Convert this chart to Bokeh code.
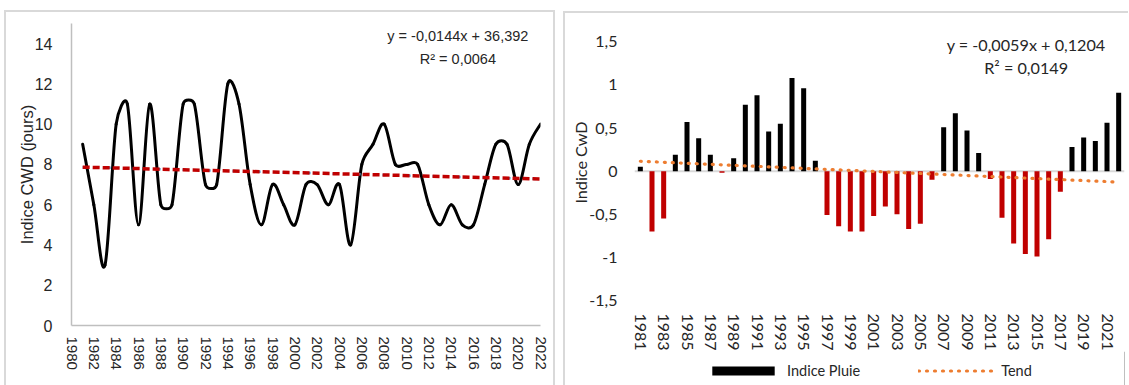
from bokeh.plotting import figure
from bokeh.models import (ColumnDataSource, FixedTicker, Range1d, Label, Legend,
                          LegendItem, Span, CustomJSTickFormatter)
from bokeh.core.properties import value
from bokeh.layouts import row, column
from bokeh.embed import file_html
from bokeh.resources import INLINE

# ---- data -------------------------------------------------------------
years = list(range(1981, 2023))

# consecutive wet days per year (left panel)
cwd_days = [9, 6, 3, 10, 11, 5, 11, 6, 6, 11,
            11, 7, 7, 12, 11, 7, 5, 7, 6, 5,
            7, 7, 6, 7, 4, 8, 9, 10, 8, 8,
            8, 6, 5, 6, 5, 5, 7, 9, 9, 7,
            9, 10]
cwd_slope, cwd_intercept = -0.0144, 36.392          # y = -0,0144x + 36,392
cwd_r2 = "0,0064"

# standardised CWD index (right panel)
cwd_index = [0.05, -0.70, -0.55, 0.19, 0.57, 0.38, 0.19, -0.02, 0.15, 0.77,
             0.88, 0.46, 0.55, 1.08, 0.96, 0.12, -0.51, -0.64, -0.70, -0.70,
             -0.52, -0.41, -0.50, -0.67, -0.61, -0.10, 0.51, 0.67, 0.47, 0.21,
             -0.09, -0.54, -0.84, -0.96, -0.99, -0.79, -0.24, 0.28, 0.39, 0.35,
             0.56, 0.91]
idx_slope, idx_intercept = -0.0059, 0.1204            # y = -0,0059x + 0,1204 (x = rank)
idx_r2 = "0,0149"

left_ticks = list(range(1980, 2023, 2))
right_ticks = list(range(1981, 2022, 2))

NARROW = "Liberation Sans"
HUMAN = "Lato"
TXT = "#262626"
FRAME = "2px solid #d9d9d9"
BAR_POS, BAR_NEG, TEND_COLOR = "#000000", "#C00000", "#ED7D31"


def smooth_segments(xs, ys, px_x, px_y):
    """Cubic Bezier pieces through every point (spreadsheet-style smoothing).
    Tangent handles are 1/6 of the neighbour chord, capped at half the
    segment length measured in pixels."""
    n = len(xs)
    out = {k: [] for k in ("x0", "y0", "x1", "y1", "cx0", "cy0", "cx1", "cy1")}

    def handle(a, b, seg_len):
        dx = (xs[b] - xs[a]) / 6
        dy = (ys[b] - ys[a]) / 6
        ln = ((dx * px_x) ** 2 + (dy * px_y) ** 2) ** 0.5
        cap = seg_len / 2
        if ln > cap and ln > 0:
            dx, dy = dx * cap / ln, dy * cap / ln
        return dx, dy

    for i in range(n - 1):
        a = max(i - 1, 0)
        b = min(i + 2, n - 1)
        seg = (((xs[i + 1] - xs[i]) * px_x) ** 2 + ((ys[i + 1] - ys[i]) * px_y) ** 2) ** 0.5
        dx0, dy0 = handle(a, i + 1, seg)
        dx1, dy1 = handle(i, b, seg)
        out["x0"].append(xs[i]); out["y0"].append(ys[i])
        out["x1"].append(xs[i + 1]); out["y1"].append(ys[i + 1])
        out["cx0"].append(xs[i] + dx0); out["cy0"].append(ys[i] + dy0)
        out["cx1"].append(xs[i + 1] - dx1); out["cy1"].append(ys[i + 1] - dy1)
    return out


def plain_axis(ax, font, color):
    ax.major_tick_line_color = None
    ax.minor_tick_line_color = None
    ax.major_tick_out = 0
    ax.major_tick_in = 0
    ax.minor_tick_out = 0
    ax.minor_tick_in = 0
    ax.major_label_text_font = font
    ax.major_label_text_color = color
    ax.axis_label_text_font = font
    ax.axis_label_text_font_style = "normal"
    ax.axis_label_text_color = color


# ---- left panel: smoothed CWD series with linear trend -----------------
p1 = figure(frame_width=465, frame_height=300,
            x_range=Range1d(1980, 2022), y_range=Range1d(0, 15),
            min_border_left=65, min_border_right=17, min_border_top=11,
            min_border_bottom=62, output_backend="svg", toolbar_location=None)
p1.margin = (10, 0, 0, 4)
p1.styles = {"border-top": FRAME, "border-left": FRAME, "border-right": FRAME}

curve = ColumnDataSource(smooth_segments(years, cwd_days, 465 / 42, 20))
p1.bezier(x0="x0", y0="y0", x1="x1", y1="y1", cx0="cx0", cy0="cy0",
          cx1="cx1", cy1="cy1", source=curve, line_color="black",
          line_width=3, line_cap="round", line_join="round")

trend_x = [years[0], years[-1]]
trend_y = [cwd_slope * x + cwd_intercept for x in trend_x]
p1.line(trend_x, trend_y, line_color="#5B9BD5", line_width=2.5, line_dash="3 22")
p1.line(trend_x, trend_y, line_color="#C00000", line_width=3.5, line_dash="7 3")

p1.add_layout(Label(x=2014.6, y=14.4, text="y = -0,0144x + 36,392",
                    text_align="center", text_baseline="middle",
                    text_font=NARROW, text_font_size="14.5px", text_color=TXT))
p1.add_layout(Label(x=2014.6, y=13.25, text="R² = " + cwd_r2,
                    text_align="center", text_baseline="middle",
                    text_font=NARROW, text_font_size="14.5px", text_color=TXT))

p1.xaxis.ticker = FixedTicker(ticks=left_ticks)
p1.yaxis.ticker = FixedTicker(ticks=list(range(0, 15, 2)))
p1.xaxis.major_label_orientation = "vertical"
p1.yaxis.axis_label = "Indice CWD (jours)"
for ax in (p1.xaxis[0], p1.yaxis[0]):
    plain_axis(ax, NARROW, TXT)
    ax.axis_line_color = "#bfbfbf"
    ax.axis_line_width = 1.5
p1.xaxis.major_label_text_font_size = "15px"
p1.yaxis.major_label_text_font_size = "16px"
p1.xaxis.major_label_standoff = 11
p1.yaxis.major_label_standoff = 19
p1.yaxis.axis_label_text_font_size = "16.5px"
p1.yaxis.axis_label_standoff = -4
p1.grid.visible = False
p1.outline_line_color = None

# ---- right panel: yearly index bars with linear trend -----------------
p2 = figure(frame_width=488, frame_height=274,
            x_range=Range1d(1980.5, 2022.5), y_range=Range1d(-1.5, 1.70),
            min_border_left=69, min_border_right=6, min_border_top=11,
            min_border_bottom=50, output_backend="svg", toolbar_location=None)
p2.margin = (11, 0, 0, 8)
p2.styles = {"border-top": FRAME, "border-left": FRAME}

p2.add_layout(Span(location=0, dimension="width", line_color="#d9d9d9",
                   line_width=2, level="underlay"))

bar_colors = [BAR_POS if v >= 0 else BAR_NEG for v in cwd_index]
bars_src = ColumnDataSource(dict(year=years, val=cwd_index, color=bar_colors))
p2.vbar(x="year", top="val", bottom=0, width=0.43, source=bars_src,
        fill_color="color", line_color=None)

ranks = list(range(1, len(years) + 1))
tend_style = dict(line_color=TEND_COLOR, line_width=3.2, line_dash="1 7", line_cap="round")
p2.line([years[0], years[-1]],
        [idx_slope * ranks[0] + idx_intercept, idx_slope * ranks[-1] + idx_intercept],
        **tend_style)

p2.add_layout(Label(x=2014.07, y=1.464, text="y = -0,0059x + 0,1204",
                    text_align="center", text_baseline="middle",
                    text_font=HUMAN, text_font_size="16.2px", text_color=TXT))
p2.add_layout(Label(x=2014.07, y=1.196, text="R² = " + idx_r2,
                    text_align="center", text_baseline="middle",
                    text_font=HUMAN, text_font_size="16.2px", text_color=TXT))

p2.xaxis.ticker = FixedTicker(ticks=right_ticks)
p2.yaxis.ticker = FixedTicker(ticks=[-1.5, -1, -0.5, 0, 0.5, 1, 1.5])
p2.yaxis.formatter = CustomJSTickFormatter(code="return tick.toString().replace('.', ',');")
p2.xaxis.major_label_orientation = "vertical"
p2.yaxis.axis_label = "Indice CwD"
for ax in (p2.xaxis[0], p2.yaxis[0]):
    plain_axis(ax, HUMAN, TXT)
    ax.axis_line_color = None
    ax.major_label_text_font_size = "16px"
p2.xaxis.major_label_standoff = 13
p2.yaxis.major_label_standoff = 17
p2.yaxis.axis_label_text_font_size = "16.2px"
p2.yaxis.axis_label_standoff = -4
p2.grid.visible = False
p2.outline_line_color = None

# ---- legend strip under the right panel -------------------------------
# the swatch renderers sit outside the strip's visible range; only their
# legend entries are drawn
p3 = figure(frame_width=488, frame_height=37, x_range=(0, 1), y_range=(0, 1),
            min_border_left=69, min_border_right=6, min_border_top=0,
            min_border_bottom=0, x_axis_location=None, y_axis_location=None,
            output_backend="svg", toolbar_location=None)
p3.margin = (0, 0, 0, 8)
p3.styles = {"border-left": FRAME}
p3.grid.visible = False
p3.outline_line_color = None
swatch_bar = p3.vbar(x=[5], top=[1], bottom=0, width=0.43,
                     fill_color=BAR_POS, line_color=None)
swatch_tend = p3.line(x=[5, 6], y=[0.5, 0.5], **tend_style)

legend = Legend(items=[LegendItem(label=value("Indice Pluie"), renderers=[swatch_bar]),
                       LegendItem(label=value("Tend"), renderers=[swatch_tend])],
                location=(70, 9), orientation="horizontal", padding=0, margin=0,
                spacing=58, border_line_color=None, background_fill_alpha=0,
                label_text_font=HUMAN, label_text_font_size="14.5px",
                label_text_color=TXT, label_standoff=5, glyph_height=11,
                glyph_width=78, label_height=11)
p3.add_layout(legend)

layout = row(column(p1), column(p2, p3))
open("out.html", "w").write(file_html(layout, INLINE))
